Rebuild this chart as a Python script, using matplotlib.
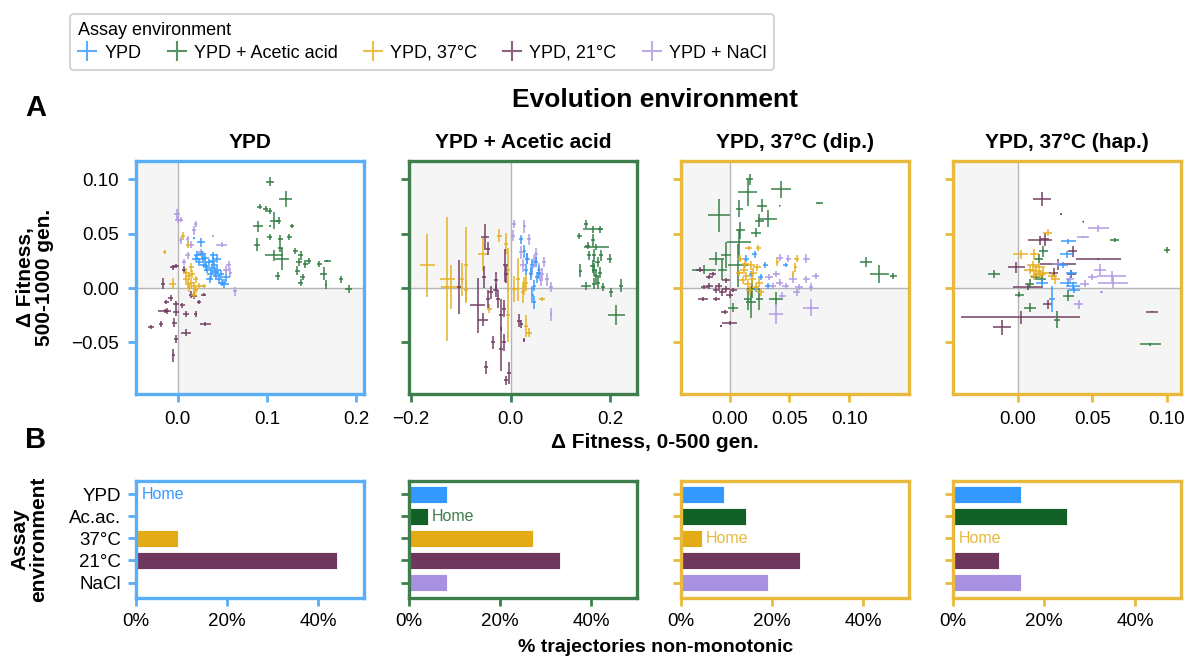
import numpy as np
import matplotlib
matplotlib.use("Agg")
import matplotlib.pyplot as plt
from matplotlib.lines import Line2D

plt.rcParams['font.family'] = ['Liberation Sans', 'DejaVu Sans']

assays = ['YPD', 'YPD + Acetic acid', 'YPD, 37°C', 'YPD, 21°C', 'YPD + NaCl']
assay_short = ['YPD', 'Ac.ac.', '37°C', '21°C', 'NaCl']
assay_colors = ['#3399ff', '#2f7a3f', '#e6ae1c', '#6e3a5e', '#ad98e3']
bar_colors = ['#3399ff', '#116127', '#e3ac16', '#6e385e', '#a891e0']

panel_titles = ['YPD', 'YPD + Acetic acid', 'YPD, 37°C (dip.)', 'YPD, 37°C (hap.)']
spine_colors = ['#5aaef5', '#3e7e4c', '#e8b93a', '#e8b93a']
home_idx = [0, 1, 2, 2]
xlims = [(-0.047, 0.209), (-0.204, 0.254), (-0.0406, 0.150), (-0.0437, 0.1097)]
xticks = [[0.0, 0.1, 0.2], [-0.2, 0.0, 0.2], [0.0, 0.05, 0.1], [0.0, 0.05, 0.1]]
ylim = (-0.0976, 0.117)
yticks = [-0.05, 0.0, 0.05, 0.10]

# (x, y, xerr, yerr)
# --- evolved in YPD ---
p1_ypd = [(0.026, 0.042, .004, .004), (0.018, 0.046, .001, .001), (0.022, 0.030, .004, .004),
          (0.028, 0.027, .004, .003), (0.031, 0.028, .004, .004), (0.035, 0.024, .004, .003),
          (0.039, 0.025, .004, .004), (0.041, 0.021, .004, .003), (0.044, 0.017, .004, .004),
          (0.033, 0.017, .004, .003), (0.037, 0.013, .004, .004), (0.043, 0.011, .004, .003),
          (0.046, 0.008, .004, .004), (0.050, 0.005, .004, .003), (0.052, 0.004, .005, .004),
          (0.029, 0.021, .004, .003), (0.024, 0.024, .004, .004), (0.040, 0.030, .004, .003),
          (0.048, 0.013, .004, .004), (0.036, 0.008, .004, .003), (0.044, 0.027, .004, .004),
          (0.020, 0.027, .004, .003), (0.054, 0.010, .004, .004), (0.032, 0.020, .004, .004),
          (0.038, 0.018, .004, .004), (0.042, 0.015, .004, .004), (0.027, 0.031, .004, .003)]
p1_ac = [(0.104, 0.098, .0045, .004), (0.121, 0.082, .0075, .0077), (0.092, 0.075, .003, .002),
         (0.0985, 0.073, .003, .003), (0.103, 0.071, .003, .003), (0.108, 0.062, .004, .008),
         (0.113, 0.062, .003, .003), (0.090, 0.057, .006, .005), (0.104, 0.057, .001, .001),
         (0.128, 0.057, .002, .002), (0.103, 0.047, .003, .003), (0.115, 0.045, .003, .004),
         (0.125, 0.047, .003, .003), (0.089, 0.040, .003, .006), (0.115, 0.037, .003, .004),
         (0.132, 0.034, .003, .003), (0.108, 0.030, .010, .005), (0.117, 0.027, .008, .010),
         (0.138, 0.030, .003, .004), (0.136, 0.024, .003, .004), (0.143, 0.022, .003, .004),
         (0.147, 0.025, .003, .003), (0.159, 0.022, .003, .003), (0.168, 0.025, .004, .001),
         (0.164, 0.013, .004, .006), (0.112, 0.011, .003, .004), (0.138, 0.005, .003, .003),
         (0.166, 0.003, .001, .004), (0.183, 0.008, .002, .003), (0.192, -0.001, .004, .004),
         (0.134, 0.016, .003, .004), (0.140, 0.010, .003, .003)]
p1_37 = [(-0.015, 0.033, .002, .002), (0.006, 0.048, .002, .004), (0.011, 0.040, .002, .003),
         (-0.006, 0.004, .004, .005), (0.009, 0.014, .003, .004), (0.013, 0.011, .003, .004),
         (0.016, 0.013, .003, .004), (0.020, 0.008, .003, .003), (0.015, 0.005, .003, .004),
         (0.011, 0.004, .003, .003), (0.018, 0.002, .003, .004), (0.024, 0.002, .003, .003),
         (0.029, 0.002, .003, .002), (0.015, 0.019, .003, .004), (0.020, -0.002, .003, .003),
         (0.009, 0.008, .003, .003), (0.018, -0.006, .003, .003), (0.013, 0.000, .003, .004)]
p1_21 = [(-0.017, 0.004, .002, .005), (-0.006, 0.019, .003, .002), (-0.002, 0.020, .003, .002),
         (0.007, 0.017, .002, .003), (0.015, -0.006, .003, .003), (0.018, -0.007, .003, .003),
         (-0.008, -0.009, .003, .003), (-0.002, -0.015, .003, .003), (0.005, -0.016, .003, .002),
         (-0.013, -0.013, .003, .002), (-0.015, -0.021, .007, .002), (-0.002, -0.022, .003, .004),
         (0.009, -0.024, .003, .003), (0.020, -0.024, .002, .003), (0.024, -0.013, .002, .002),
         (0.029, -0.006, .003, .001), (-0.030, -0.036, .003, .002), (-0.019, -0.033, .002, .003),
         (-0.004, -0.032, .003, .004), (0.009, -0.041, .006, .003), (0.031, -0.033, .006, .002),
         (-0.002, -0.047, .002, .004), (-0.005, -0.062, .002, .006), (-0.012, -0.021, .002, .003)]
p1_nacl = [(-0.001, 0.068, .003, .005), (-0.0004, 0.063, .003, .003), (0.003, 0.063, .003, .002),
           (0.020, 0.059, .002, .003), (0.018, 0.053, .002, .004), (0.011, 0.045, .002, .003),
           (0.015, 0.040, .003, .003), (0.003, 0.044, .002, .003), (0.049, 0.040, .006, .002),
           (0.039, 0.048, .001, .001), (0.057, 0.021, .003, .004), (0.059, 0.014, .002, .004),
           (0.054, 0.017, .003, .003), (0.011, 0.030, .003, .003), (0.064, -0.003, .002, .004),
           (0.007, 0.024, .002, .003), (0.026, 0.033, .003, .003)]

# --- evolved in YPD + Acetic acid ---
p2_ypd = [(0.021, 0.045, .004, .004), (0.028, 0.034, .004, .006), (0.034, 0.027, .004, .005),
          (0.044, 0.021, .004, .006), (0.051, 0.024, .004, .005), (0.041, 0.013, .004, .006),
          (0.048, 0.002, .003, .005), (0.054, 0.010, .004, .005), (0.044, -0.006, .003, .008),
          (0.048, -0.013, .003, .006), (0.031, 0.017, .004, .005), (0.058, 0.014, .004, .006)]
p2_ac = [(0.152, 0.059, .004, .004), (0.138, 0.048, .005, .003), (0.165, 0.054, .020, .003),
         (0.179, 0.054, .004, .003), (0.155, 0.039, .005, .003), (0.172, 0.038, .025, .003),
         (0.165, 0.044, .004, .006), (0.168, 0.030, .004, .006), (0.158, 0.030, .004, .004),
         (0.175, 0.024, .005, .005), (0.199, 0.027, .005, .004), (0.140, 0.016, .003, .006),
         (0.168, 0.017, .005, .006), (0.172, 0.011, .005, .006), (0.179, 0.014, .004, .005),
         (0.175, 0.005, .004, .006), (0.168, 0.004, .005, .005), (0.152, 0.002, .010, .004),
         (0.185, 0.001, .004, .004), (0.202, -0.004, .004, .004), (0.222, 0.002, .004, .006),
         (0.212, -0.025, .017, .009), (0.165, 0.020, .005, .006), (0.182, 0.030, .004, .005)]
p2_37 = [(-0.167, 0.021, .015, .029), (-0.127, 0.008, .015, .057), (-0.120, 0.001, .020, .020),
         (-0.090, 0.021, .004, .035), (-0.090, -0.002, .004, .010), (-0.056, 0.031, .010, .015),
         (-0.043, -0.019, .005, .004), (-0.023, 0.048, .005, .006), (-0.009, 0.041, .004, .010),
         (-0.006, 0.017, .004, .020), (0.007, -0.001, .005, .012), (0.014, 0.008, .004, .020),
         (0.028, 0.002, .004, .008), (0.031, 0.005, .004, .008), (-0.006, -0.025, .004, .025),
         (0.031, -0.035, .004, .010), (0.038, -0.041, .006, .004), (0.064, -0.010, .006, .002),
         (0.024, -0.004, .004, .010), (-0.097, 0.008, .004, .015)]
p2_21 = [(-0.052, 0.047, .008, .012), (-0.045, 0.036, .004, .006), (-0.053, 0.010, .004, .010),
         (-0.103, 0.001, .004, .025), (-0.066, -0.016, .015, .025), (-0.056, -0.029, .010, .006),
         (-0.040, -0.004, .005, .006), (-0.030, -0.002, .005, .006), (-0.026, -0.010, .004, .008),
         (-0.046, -0.010, .004, .008), (-0.019, -0.025, .004, .015), (-0.013, -0.019, .004, .008),
         (-0.011, 0.021, .005, .015), (-0.009, 0.013, .004, .008), (-0.036, -0.050, .004, .006),
         (-0.019, -0.056, .004, .020), (-0.013, -0.050, .004, .008), (-0.050, -0.073, .004, .006),
         (-0.003, -0.078, .004, .010), (-0.009, -0.085, .004, .004), (0.017, -0.030, .004, .006),
         (0.021, -0.033, .003, .004), (0.028, -0.048, .002, .002), (-0.030, 0.007, .004, .008)]
p2_nacl = [(0.007, 0.059, .004, .004), (0.028, 0.057, .003, .006), (0.004, 0.048, .004, .005),
           (0.038, 0.045, .004, .005), (0.021, 0.033, .005, .006), (0.034, 0.027, .005, .005),
           (0.048, 0.024, .004, .006), (0.058, 0.017, .005, .006), (0.064, 0.013, .004, .005),
           (0.074, 0.008, .004, .006), (0.081, 0.001, .004, .005), (0.061, 0.007, .004, .005),
           (0.051, 0.031, .004, .006), (0.068, 0.024, .004, .005), (0.081, -0.024, .002, .006),
           (0.041, 0.014, .004, .005), (0.024, 0.021, .005, .006)]

# --- evolved in YPD, 37C (diploid) ---
p3_ypd = [(0.021, 0.031, .002, .003), (0.014, 0.027, .002, .003), (0.030, 0.021, .002, .003),
          (0.018, 0.013, .002, .003), (0.026, 0.010, .002, .003), (0.047, 0.021, .002, .002),
          (0.032, 0.002, .002, .003), (0.022, -0.001, .002, .003)]
p3_ac = [(0.017, 0.100, .003, .005), (0.015, 0.088, .008, .012), (0.043, 0.091, .008, .008),
         (0.042, 0.076, .0005, .0005), (0.075, 0.078, .003, .0005), (-0.009, 0.067, .009, .015),
         (0.008, 0.073, .003, .008), (0.027, 0.076, .004, .006), (0.025, 0.062, .004, .006),
         (0.032, 0.064, .008, .008), (0.009, 0.053, .004, .008), (0.022, 0.051, .004, .004),
         (0.008, 0.042, .010, .012), (-0.003, 0.030, .004, .012), (-0.011, 0.027, .006, .006),
         (-0.021, 0.017, .010, .004), (-0.006, 0.017, .004, .010), (0.007, 0.021, .008, .020),
         (0.015, -0.010, .003, .010), (0.018, -0.013, .004, .015), (0.003, -0.018, .004, .004),
         (0.025, -0.010, .003, .010), (0.039, -0.010, .006, .006), (0.114, 0.024, .005, .005),
         (0.125, 0.013, .008, .008), (0.137, 0.011, .003, .003), (0.019, -0.001, .004, .008)]
p3_37 = [(0.016, 0.037, .003, .002), (0.024, 0.037, .002, .003), (0.009, 0.027, .003, .003),
         (0.012, 0.017, .003, .004), (0.018, 0.021, .003, .004), (0.023, 0.019, .003, .003),
         (0.014, 0.011, .003, .004), (0.019, 0.008, .003, .004), (0.025, 0.005, .003, .004),
         (0.015, 0.004, .003, .004), (0.022, 0.001, .003, .004), (0.017, -0.002, .003, .004),
         (0.011, 0.007, .003, .003), (0.040, 0.024, .001, .004), (0.056, 0.027, .002, .003),
         (0.055, 0.019, .001, .004), (0.053, 0.013, .001, .003), (0.026, -0.004, .003, .003),
         (0.008, 0.014, .003, .003), (0.020, 0.014, .003, .004), (0.013, 0.022, .003, .004)]
p3_21 = [(-0.025, 0.017, .003, .002), (-0.014, 0.013, .003, .002), (-0.017, 0.002, .003, .003),
         (-0.009, 0.002, .003, .003), (-0.003, -0.001, .003, .003), (-0.011, -0.002, .003, .003),
         (-0.021, 0.001, .003, .002), (-0.006, -0.004, .003, .003), (0.000, -0.006, .003, .003),
         (0.003, -0.002, .003, .002), (-0.022, -0.010, .004, .002), (-0.011, -0.010, .003, .002),
         (-0.004, -0.022, .003, .002), (0.000, -0.032, .006, .002), (-0.007, -0.035, .001, .001),
         (-0.017, 0.010, .003, .002), (-0.003, 0.007, .003, .002)]
p3_nacl = [(0.042, 0.028, .003, .003), (0.049, 0.027, .002, .003), (0.064, 0.027, .003, .004),
           (0.072, 0.011, .003, .003), (0.033, 0.010, .003, .003), (0.039, 0.013, .003, .003),
           (0.042, 0.005, .003, .003), (0.047, 0.002, .003, .003), (0.053, 0.008, .003, .003),
           (0.058, 0.001, .003, .003), (0.064, 0.008, .003, .003), (0.068, 0.001, .002, .004),
           (0.056, -0.004, .003, .003), (0.039, -0.024, .006, .009), (0.068, -0.018, .007, .008),
           (0.044, -0.007, .003, .003), (0.036, 0.002, .003, .003)]

# --- evolved in YPD, 37C (haploid) ---
p4_ypd = [(0.034, 0.043, .005, .002), (0.033, 0.031, .005, .003), (0.030, 0.021, .004, .003),
          (0.036, 0.014, .004, .003), (0.034, 0.005, .006, .003), (0.037, 0.002, .005, .004),
          (0.023, -0.010, .002, .012), (0.038, -0.002, .004, .003), (0.016, 0.005, .004, .003)]
p4_ac = [(-0.016, 0.013, .004, .004), (0.065, 0.044, .003, .002), (0.100, 0.035, .002, .003),
         (0.017, 0.034, .003, .005), (0.014, 0.027, .003, .004), (0.008, 0.004, .003, .004),
         (0.016, 0.008, .003, .004), (0.001, -0.006, .003, .002), (0.008, -0.018, .004, .004),
         (0.034, -0.007, .004, .005), (0.026, -0.029, .002, .008), (0.089, -0.052, .007, .001),
         (0.012, 0.010, .003, .003)]
p4_37 = [(0.020, 0.051, .003, .003), (0.002, 0.031, .005, .004), (0.011, 0.031, .003, .005),
         (0.008, 0.017, .004, .004), (0.010, 0.021, .004, .004), (0.012, 0.016, .004, .005),
         (0.015, 0.013, .004, .004), (0.011, 0.011, .003, .004), (0.017, 0.014, .004, .004),
         (0.023, 0.011, .003, .004), (0.025, 0.008, .003, .004), (0.014, 0.019, .004, .004)]
p4_21 = [(0.016, 0.082, .006, .006), (0.029, 0.068, .0005, .0005), (0.044, 0.061, .0005, .0005),
         (0.015, 0.044, .008, .004), (0.018, 0.045, .003, .006), (0.037, 0.034, .003, .005),
         (0.054, 0.027, .015, .001), (-0.001, 0.019, .006, .005), (0.027, 0.022, .012, .005),
         (0.024, 0.014, .003, .004), (0.020, -0.015, .003, .004), (0.002, -0.027, .040, .006),
         (-0.011, -0.036, .006, .007), (0.090, -0.022, .004, .0005), (0.036, 0.013, .003, .004),
         (0.007, 0.001, .010, .003)]
p4_nacl = [(0.054, 0.055, .007, .003), (0.044, 0.047, .004, .001), (0.027, 0.022, .004, .003),
           (0.055, 0.017, .004, .005), (0.063, 0.011, .010, .005), (0.064, 0.005, .010, .005),
           (0.050, 0.010, .003, .003), (0.045, 0.004, .003, .003), (0.056, -0.004, .001, .001),
           (0.041, -0.015, .003, .004), (0.035, 0.008, .003, .003)]

scatter_data = [
    [p1_ypd, p1_ac, p1_37, p1_21, p1_nacl],
    [p2_ypd, p2_ac, p2_37, p2_21, p2_nacl],
    [p3_ypd, p3_ac, p3_37, p3_21, p3_nacl],
    [p4_ypd, p4_ac, p4_37, p4_21, p4_nacl],
]
# draw order so the home cluster ends up on top, like the figure
draw_order = [[3, 2, 4, 0, 1], [2, 3, 4, 0, 1], [1, 3, 4, 0, 2], [3, 1, 4, 0, 2]]

# percent of non-monotonic trajectories, rows: YPD, Ac.ac., 37C, 21C, NaCl
pct_ypd_evo = [0, 0, 9.3, 44.1, 0]
pct_ac_evo = [8.3, 4.1, 27.1, 33.2, 8.3]
pct_37dip_evo = [9.4, 14.2, 4.5, 26.1, 19.0]
pct_37hap_evo = [14.9, 24.9, 0, 10.0, 14.9]
bar_pcts = [pct_ypd_evo, pct_ac_evo, pct_37dip_evo, pct_37hap_evo]

W, H = 1185, 659
fig = plt.figure(figsize=(W / 100, H / 100), dpi=100)

lefts = [136, 409, 681, 953]
aw = 228
tick_fs = 13.5
lab_fs = 15

for i in range(4):
    sc = spine_colors[i]
    ax = fig.add_axes([lefts[i] / W, 1 - 394 / H, aw / W, (394 - 161) / H])
    x0, x1 = xlims[i]
    ax.set_xlim(x0, x1)
    ax.set_ylim(*ylim)
    ax.fill_between([x0, 0], 0, ylim[1], color='#f5f5f5', lw=0, zorder=0)
    ax.fill_between([0, x1], ylim[0], 0, color='#f5f5f5', lw=0, zorder=0)
    ax.axhline(0, color='#b5b5b5', lw=1, zorder=1)
    ax.axvline(0, color='#b5b5b5', lw=1, zorder=1)
    for k in draw_order[i]:
        pts = np.array(scatter_data[i][k])
        ax.errorbar(pts[:, 0], pts[:, 1], xerr=pts[:, 2], yerr=pts[:, 3], fmt='none',
                    ecolor=assay_colors[k], elinewidth=1.4, alpha=0.75, capsize=0, zorder=3)
    ax.set_xticks(xticks[i])
    ax.set_yticks(yticks)
    if i > 0:
        ax.set_yticklabels([])
    for s in ax.spines.values():
        s.set_color(sc)
        s.set_linewidth(2.4)
    ax.tick_params(color=sc, width=2, length=6, labelsize=tick_fs, pad=6)
    ax.set_title(panel_titles[i], fontsize=15, fontweight='bold', pad=9)
    if i == 0:
        ax.set_ylabel('Δ Fitness,\n500-1000 gen.', fontsize=lab_fs, fontweight='bold',
                      linespacing=1.0)
        ax.yaxis.set_label_coords(-0.36, 0.5)

    bx = fig.add_axes([lefts[i] / W, 1 - 598 / H, aw / W, (598 - 481) / H])
    vals = bar_pcts[i]
    ypos = np.arange(5)
    bx.barh(ypos, vals, height=0.78, color=bar_colors, edgecolor='white', lw=0.6)
    bx.set_xlim(0, 50)
    bx.set_ylim(4.7, -0.6)
    bx.set_yticks(ypos)
    if i == 0:
        bx.set_yticklabels(assay_short)
        bx.set_ylabel('Assay\nenvironment', fontsize=lab_fs, fontweight='bold', linespacing=1.0)
        bx.yaxis.set_label_coords(-0.385, 0.5)
    else:
        bx.set_yticklabels([])
    bx.set_xticks([0, 20, 40])
    bx.set_xticklabels(['0%', '20%', '40%'])
    for s in bx.spines.values():
        s.set_color(sc)
        s.set_linewidth(2.4)
    bx.tick_params(color=sc, width=2, length=6, labelsize=tick_fs, pad=5)
    h = home_idx[i]
    bx.text(vals[h] + (0.9 if vals[h] > 0 else 1.3), h, 'Home', color=sc if i else '#3399ff',
            fontsize=11.5, va='center', ha='left')

fig.text(36 / W, 1 - 108 / H, 'A', fontsize=21, fontweight='bold', ha='center', va='center')
fig.text(36 / W, 1 - 440 / H, 'B', fontsize=21, fontweight='bold', ha='center', va='center')
fig.text(655 / W, 1 - 100 / H, 'Evolution environment', fontsize=19, fontweight='bold',
         ha='center', va='center')
fig.text(655 / W, 1 - 443 / H, 'Δ Fitness, 0-500 gen.', fontsize=lab_fs, fontweight='bold',
         ha='center', va='center')
fig.text(656 / W, 1 - 647 / H, '% trajectories non-monotonic', fontsize=14, fontweight='bold',
         ha='center', va='center')

handles = [Line2D([], [], ls='none', marker='+', markersize=14, markeredgewidth=1.5,
                  color=c, alpha=0.8) for c in assay_colors]
leg = fig.legend(handles, assays, loc='upper left', bbox_to_anchor=(70 / W, 1 - 14 / H),
                 borderaxespad=0, ncol=5, title='Assay environment', alignment='left',
                 fontsize=13, title_fontsize=13, frameon=True, handletextpad=0.45,
                 columnspacing=1.45, handlelength=1.0, borderpad=0.45, labelspacing=0.3)
leg.get_frame().set_edgecolor('#cccccc')
leg.get_frame().set_linewidth(1.5)

fig.savefig('out.png', dpi=100)
